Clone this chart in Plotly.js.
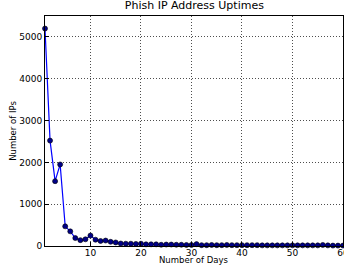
<!DOCTYPE html>
<html><head><meta charset="utf-8">
<script src="https://cdn.plot.ly/plotly-3.0.1.min.js"></script>
<style>html,body{margin:0;padding:0;background:#fff}#c{width:344px;height:266px}</style>
</head><body><div id="c"></div>
<script>
const days = [];
for (let d = 1; d <= 60; d++) days.push(d);
const counts = [5200, 2520, 1550, 1950, 470, 350, 190, 140, 160, 250,
  150, 120, 130, 100, 85, 60, 55, 55, 50, 55,
  40, 40, 40, 30, 35, 35, 30, 30, 25, 25,
  45, 20, 20, 25, 20, 20, 25, 20, 20, 20,
  20, 20, 20, 15, 15, 15, 15, 15, 15, 15,
  15, 15, 15, 15, 15, 25, 15, 10, 10, 10];
const xTicks = [10, 20, 30, 40, 50, 60];
const yTicks = [0, 1000, 2000, 3000, 4000, 5000];

const font = {family: 'DejaVu Sans', size: 9, color: '#000'};
Plotly.newPlot('c', [{
  x: days, y: counts, type: 'scatter', mode: 'lines+markers',
  line: {color: '#0000ff', width: 1.2},
  marker: {color: '#000088', size: 5, line: {color: '#000', width: 0.6}},
  cliponaxis: false
}], {
  width: 344, height: 266,
  margin: {l: 45, r: 1, t: 16, b: 20},
  paper_bgcolor: '#fff', plot_bgcolor: '#fff',
  showlegend: false,
  font: font,
  title: {text: 'Phish IP Address Uptimes', font: {family: 'DejaVu Sans', size: 11, color: '#000'}, x: 0.565, xanchor: 'center', y: 0.995, yanchor: 'top'},
  annotations: [{
    text: 'Number of Days', xref: 'paper', yref: 'paper', x: 0.5, y: -0.091,
    xanchor: 'center', yanchor: 'bottom', showarrow: false,
    font: {family: 'DejaVu Sans', size: 8.5, color: '#000'}
  }],
  xaxis: {
    range: [1, 60], tickvals: xTicks, ticktext: xTicks.map(String),
    showgrid: true, gridcolor: '#222', griddash: '1px,2px', gridwidth: 0.8,
    zeroline: false, showline: true, linecolor: '#000', linewidth: 1, mirror: true,
    ticks: 'inside', ticklen: 4, tickcolor: '#000', ticklabeloverflow: 'allow',
    ticklabelstandoff: -2,
    tickfont: font
  },
  yaxis: {
    range: [0, 5500], tickvals: yTicks, ticktext: yTicks.map(String),
    showgrid: true, gridcolor: '#222', griddash: '1px,2px', gridwidth: 0.8,
    zeroline: false, showline: true, linecolor: '#000', linewidth: 1, mirror: true,
    ticks: 'inside', ticklen: 4, tickcolor: '#000', ticklabeloverflow: 'allow',
    tickfont: font,
    title: {text: 'Number of IPs', font: {family: 'DejaVu Sans', size: 8.5, color: '#000'}, standoff: 1}
  }
}, {staticPlot: true, displayModeBar: false});
</script></body></html>
